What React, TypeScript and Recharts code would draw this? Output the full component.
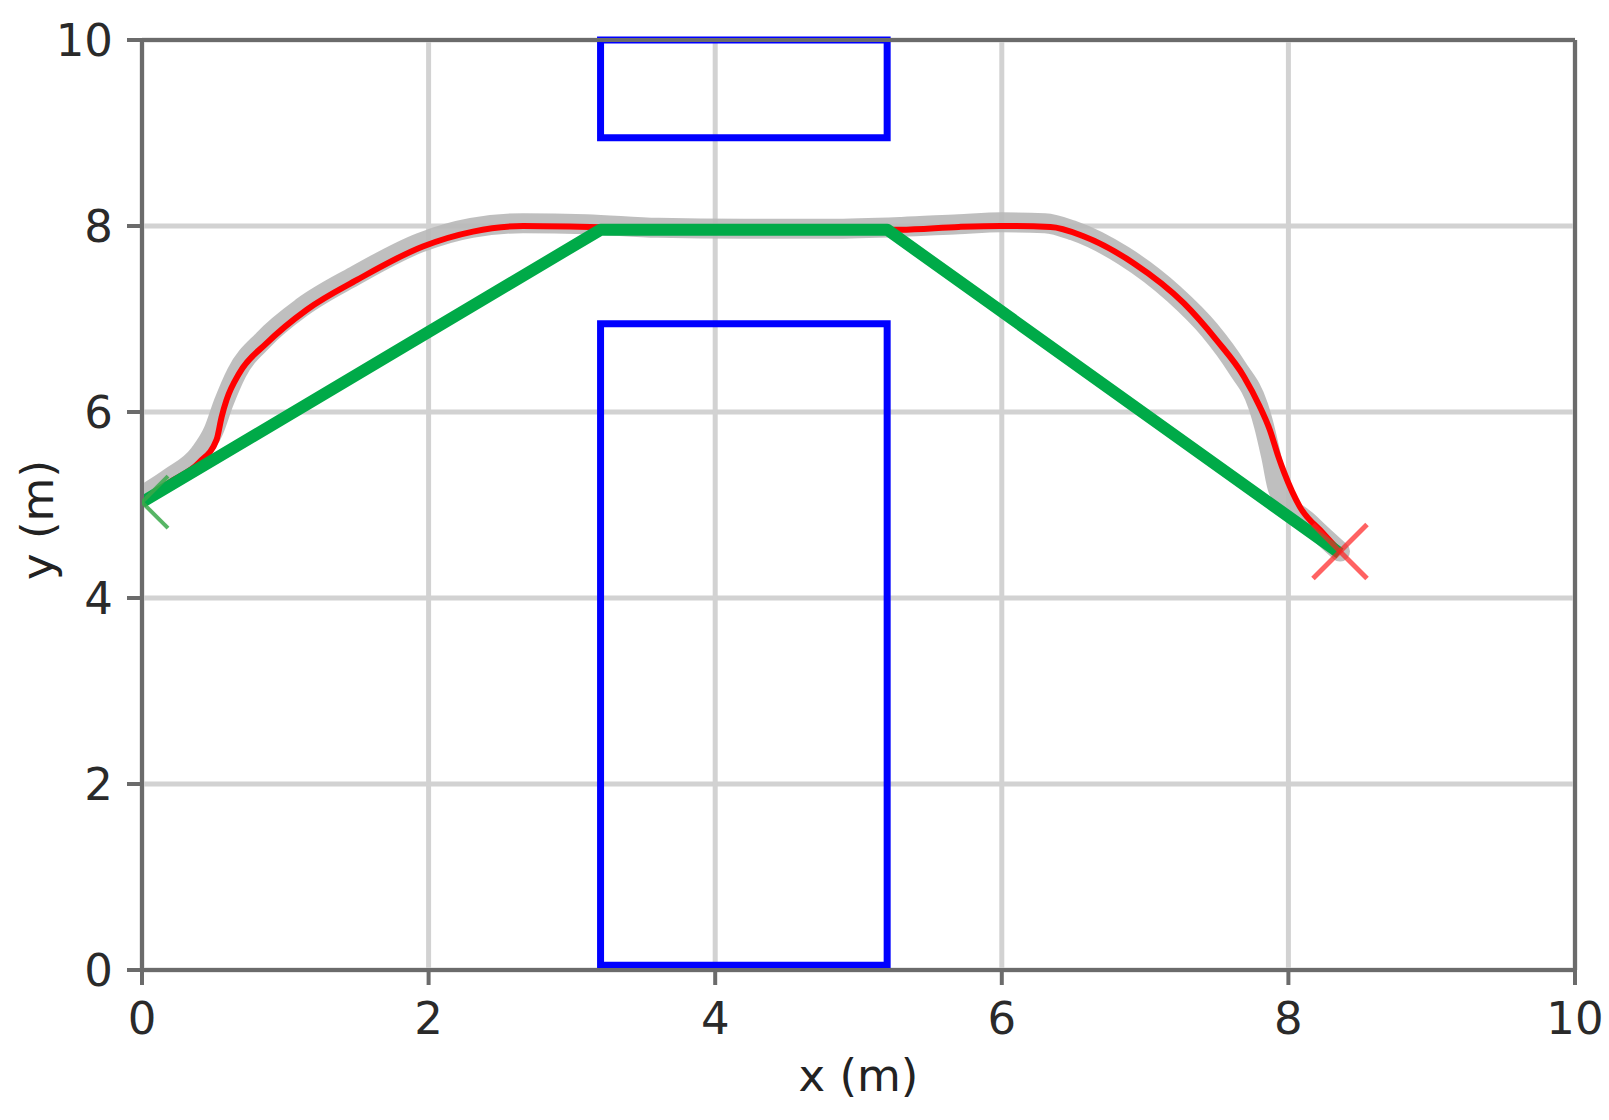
import React from 'react';
import {
  ComposedChart,
  Line,
  Scatter,
  XAxis,
  YAxis,
  CartesianGrid,
  ReferenceArea,
  ReferenceLine,
} from 'recharts';

// ─── Data ─────────────────────────────────────────────────────────────────────

const X_TICKS = [0, 2, 4, 6, 8, 10];
const Y_TICKS = [0, 2, 4, 6, 8, 10];

// Obstacles (blue boxes), in metres
const OBSTACLES = [
  { x1: 3.2, x2: 5.2, y1: 0.05, y2: 6.95 },
  { x1: 3.2, x2: 5.2, y1: 8.95, y2: 10 },
];

// Planned waypoints (green polyline)
const WAYPOINT_X = [0, 3.2, 5.2, 8.36];
const WAYPOINT_Y = [5.03, 7.96, 7.96, 4.48];

// Executed trajectory (red)
const TRAJ_X = [
  0, 0.2, 0.4, 0.52, 0.556, 0.59, 0.68, 0.87, 1.15, 1.5, 1.96, 2.31, 2.66, 3.13,
  3.6, 4.2, 4.8, 5.29, 5.7, 5.99, 6.34, 6.57, 6.92, 7.27, 7.5, 7.69, 7.8, 7.87,
  7.93, 7.97, 8.08, 8.24, 8.36,
];
const TRAJ_Y = [
  5.05, 5.25, 5.46, 5.7, 5.95, 6.13, 6.42, 6.74, 7.1, 7.42, 7.78, 7.94, 8.0, 7.99,
  7.97, 7.96, 7.96, 7.96, 7.99, 8.0, 7.99, 7.89, 7.6, 7.17, 6.77, 6.38, 6.06, 5.81,
  5.52, 5.35, 4.98, 4.7, 4.5,
];

// Reference trajectory (wide grey band)
const REF_X = [
  0, 0.2, 0.4, 0.5, 0.57, 0.66, 0.85, 1.12, 1.48, 1.94, 2.3, 2.66, 3.1, 3.6, 4.2,
  4.8, 5.3, 5.7, 6.0, 6.3, 6.5, 6.85, 7.2, 7.45, 7.64, 7.79, 7.83, 7.88, 7.93,
  8.15, 8.36,
];
const REF_Y = [
  5.1, 5.3, 5.55, 5.8, 6.1, 6.42, 6.78, 7.13, 7.46, 7.82, 7.98, 8.03, 8.02, 7.98,
  7.97, 7.97, 7.99, 8.02, 8.04, 8.03, 7.95, 7.68, 7.27, 6.88, 6.48, 6.06, 5.85,
  5.52, 5.16, 4.8, 4.5,
];

const START = [{ x: 0, y: 5.03 }];
const GOAL = [{ x: 8.36, y: 4.5 }];

// ─── Helpers ──────────────────────────────────────────────────────────────────

function zip(xs: number[], ys: number[]) {
  return xs.map((x, i) => ({ x, y: ys[i] }));
}

const waypoints = zip(WAYPOINT_X, WAYPOINT_Y);
const trajectory = zip(TRAJ_X, TRAJ_Y);
const reference = zip(REF_X, REF_Y);

const FONT = '"DejaVu Sans", sans-serif';
const AXIS_COLOUR = '#6b6b6b';

// 'x' marker like matplotlib's
function XMarker(props: any) {
  const { cx, cy, colour, r, width, opacity } = props;
  if (cx == null || cy == null) return null;
  return (
    <g stroke={colour} strokeWidth={width} strokeOpacity={opacity}>
      <line x1={cx - r} y1={cy - r} x2={cx + r} y2={cy + r} />
      <line x1={cx - r} y1={cy + r} x2={cx + r} y2={cy - r} />
    </g>
  );
}

// ─── Component ────────────────────────────────────────────────────────────────

export default function App() {
  const tickStyle = { fontSize: 45, fill: '#2a2a2a', fontFamily: FONT };

  return (
    <div style={{ width: 1609, height: 1120, background: '#fff', fontFamily: FONT }}>
      <style>{'body{margin:0;overflow:hidden}'}</style>
      <ComposedChart
        width={1609}
        height={1120}
        margin={{ top: 40, right: 34, bottom: 50, left: 42 }}
      >
        <CartesianGrid stroke="#d2d2d2" strokeWidth={5} />

        <XAxis
          type="number"
          dataKey="x"
          domain={[0, 10]}
          ticks={X_TICKS}
          interval={0}
          allowDataOverflow
          height={100}
          tick={tickStyle}
          tickSize={15}
          tickMargin={17}
          tickLine={{ stroke: AXIS_COLOUR, strokeWidth: 4 }}
          axisLine={{ stroke: AXIS_COLOUR, strokeWidth: 4 }}
          label={{
            value: 'x (m)',
            position: 'center',
            dy: 55,
            fontSize: 45,
            fill: '#222',
            fontFamily: FONT,
          }}
        />
        <YAxis
          type="number"
          dataKey="y"
          domain={[0, 10]}
          ticks={Y_TICKS}
          interval={0}
          allowDataOverflow
          width={100}
          tick={tickStyle}
          tickSize={15}
          tickMargin={14}
          tickLine={{ stroke: AXIS_COLOUR, strokeWidth: 4 }}
          axisLine={{ stroke: AXIS_COLOUR, strokeWidth: 4 }}
          label={{
            value: 'y (m)',
            position: 'center',
            angle: -90,
            dx: -55,
            dy: 15,
            fontSize: 45,
            fill: '#222',
            fontFamily: FONT,
          }}
        />

        {OBSTACLES.map((o, i) => (
          <ReferenceArea
            key={i}
            x1={o.x1}
            x2={o.x2}
            y1={o.y1}
            y2={o.y2}
            fill="none"
            fillOpacity={0}
            stroke="#0000ff"
            strokeWidth={7}
          />
        ))}

        {/* top / right spines */}
        <ReferenceLine y={10} stroke={AXIS_COLOUR} strokeWidth={4} />
        <ReferenceLine x={10} stroke={AXIS_COLOUR} strokeWidth={4} />

        <Scatter
          data={START}
          isAnimationActive={false}
          shape={(p: any) => <XMarker {...p} colour="#3aa84a" r={26} width={4} opacity={0.85} />}
        />

        <Line
          data={reference}
          dataKey="y"
          type="monotone"
          stroke="#b8b8b8"
          strokeOpacity={0.9}
          strokeWidth={20}
          strokeLinecap="round"
          strokeLinejoin="round"
          dot={false}
          activeDot={false}
          isAnimationActive={false}
        />
        <Line
          data={trajectory}
          dataKey="y"
          type="monotone"
          stroke="#ff0000"
          strokeWidth={6}
          dot={false}
          activeDot={false}
          isAnimationActive={false}
        />

        <Scatter
          data={GOAL}
          isAnimationActive={false}
          shape={(p: any) => <XMarker {...p} colour="#ff2020" r={27} width={5} opacity={0.7} />}
        />

        <Line
          data={waypoints}
          dataKey="y"
          type="linear"
          stroke="#00aa48"
          strokeWidth={12}
          strokeLinejoin="round"
          dot={false}
          activeDot={false}
          isAnimationActive={false}
        />
      </ComposedChart>
    </div>
  );
}
